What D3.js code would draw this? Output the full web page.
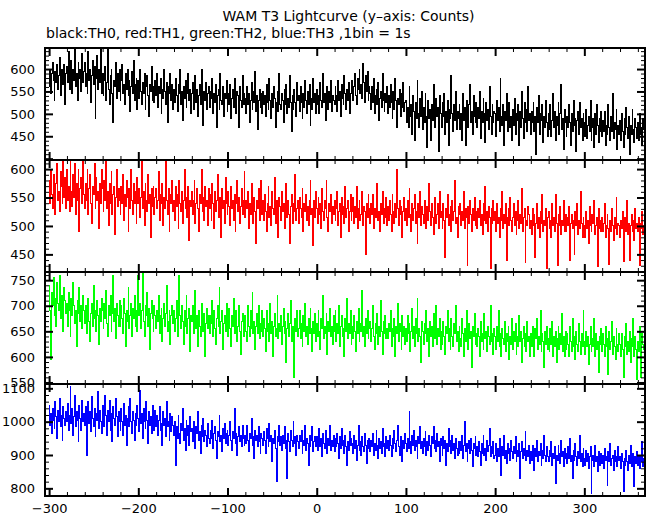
<!DOCTYPE html>
<html><head><meta charset="utf-8">
<script src="https://cdn.jsdelivr.net/npm/d3@7"></script>
<style>html,body{margin:0;padding:0;background:#fff;}svg{display:block;}</style>
</head><body>
<svg id="chart" width="652" height="515"></svg>
<script>
// ---------- data ----------
const titleText = "WAM T3 Lightcurve (y\u2013axis: Counts)";
const subtitleText = "black:TH0, red:TH1, green:TH2, blue:TH3 ,1bin = 1s";
const binStart = -300;   // time of first bin (s)
const binSize = 1;       // 1 bin = 1 s
const xTickLabels = [-300, -200, -100, 0, 100, 200, 300];
const seriesNames = ["TH0", "TH1", "TH2", "TH3"];
const yTickLabels0 = [450, 500, 550, 600];
const yTickLabels1 = [450, 500, 550, 600];
const yTickLabels2 = [550, 600, 650, 700, 750];
const yTickLabels3 = [800, 900, 1000, 1100];

const th0 = [
560,600,545,590,615,575,530,595,570,610,555,585,625,540,600,580,565,610,520,590,
605,570,640,555,595,620,545,600,575,645,560,590,530,615,580,600,550,635,570,595,
615,560,590,545,640,575,600,525,585,620,565,605,490,580,630,555,600,570,648,545,
590,540,575,605,530,570,645,555,520,585,600,545,480,575,560,615,535,590,550,600,
530,575,610,545,565,520,590,555,600,540,575,505,560,595,545,620,530,565,580,510,
575,535,600,550,520,570,545,590,510,560,585,540,495,565,550,605,530,560,525,575,
540,590,515,560,545,580,500,555,535,600,550,520,570,480,560,545,590,530,565,510,
555,525,580,540,505,565,545,600,520,550,485,560,535,575,515,545,590,530,555,500,
545,570,510,540,585,525,555,495,540,565,520,600,535,475,550,530,570,510,545,560,
515,550,535,580,500,545,525,565,470,540,555,510,590,530,520,560,495,545,535,575,
505,545,520,565,490,535,555,515,580,525,500,550,540,470,560,530,515,585,520,545,
535,500,560,520,545,480,530,570,510,550,525,595,505,540,465,530,555,515,545,500,
550,520,540,495,565,525,510,580,530,490,545,515,560,535,470,525,550,505,590,520,
510,545,530,480,555,520,565,500,535,515,585,525,460,540,510,555,525,495,570,530,
540,505,560,525,490,545,515,575,530,500,550,520,565,475,535,510,580,525,545,500,
555,520,540,500,570,530,515,590,525,545,485,535,560,510,550,525,575,505,540,530,
520,560,540,505,575,530,550,495,565,535,520,585,545,510,555,530,570,500,545,560,
575,530,560,590,540,520,580,555,600,545,565,535,612,570,525,585,550,595,530,560,
545,510,560,525,580,500,540,555,520,570,485,535,550,515,590,530,505,545,525,560,
500,540,515,565,525,490,550,510,580,530,470,535,520,555,495,545,515,570,505,525,
530,480,515,470,560,495,520,455,540,505,440,525,490,575,500,470,535,495,550,465,
515,480,545,495,425,530,490,510,440,520,485,565,500,470,535,495,515,415,540,500,
470,525,495,545,455,505,480,530,430,510,490,585,500,460,520,485,550,465,505,490,
520,465,500,440,545,485,515,430,530,495,470,520,565,480,505,455,540,495,480,525,
470,515,490,550,445,505,480,535,500,435,525,485,510,465,560,495,455,520,480,505,
500,450,530,485,515,460,580,495,475,520,430,505,485,545,460,500,525,470,495,440,
510,475,535,455,500,485,520,430,505,470,550,490,445,525,480,510,460,560,485,500,
455,505,480,525,460,495,410,515,480,540,455,500,485,520,435,495,470,530,480,450,
500,465,520,450,485,545,470,505,440,495,475,525,455,500,565,465,490,420,510,480,
450,495,470,520,480,430,500,460,530,475,490,415,485,505,455,525,470,490,440,500,
480,450,510,445,475,495,460,530,440,470,490,425,500,455,520,475,435,490,460,505,
450,485,460,505,430,475,455,520,470,440,495,460,545,445,480,465,510,420,475,455,
485,440,500,460,425,490,455,515,470,445,495,410,475,455,510,465,435,490,470,445,
480,440,500,455,470,430,490,465
];

const th1 = [
580,540,600,555,530,590,565,520,575,610,545,560,525,595,570,540,617,550,585,530,
600,545,570,525,617,560,535,590,550,610,520,575,545,600,490,565,585,540,617,555,
530,575,545,600,520,565,590,540,505,570,555,610,530,585,545,560,495,575,540,600,
565,525,580,545,617,530,560,500,575,540,595,520,555,570,485,550,600,535,565,545,
520,570,540,590,510,555,535,580,550,490,565,530,600,545,520,575,540,560,505,585,
540,565,515,550,617,530,560,500,575,545,525,590,540,555,480,565,535,570,520,550,
565,530,545,595,510,555,540,575,500,550,530,617,545,520,565,490,555,540,580,525,
545,510,570,535,555,495,580,540,525,560,505,545,600,530,550,515,570,475,545,535,
560,520,545,580,505,540,565,530,490,555,540,600,525,550,510,570,535,545,500,565,
530,555,510,575,540,495,560,525,545,590,515,535,550,480,565,530,545,505,585,540,
520,560,535,500,570,530,545,510,555,490,540,580,525,550,505,535,565,520,545,595,
515,545,530,560,495,540,520,575,535,505,550,525,470,545,530,565,510,540,580,520,
545,510,555,525,490,540,570,515,535,500,560,530,520,585,505,545,525,480,550,535,
510,560,525,540,495,530,575,515,545,520,470,535,555,505,540,525,590,510,530,545,
505,550,530,515,565,490,540,525,555,510,535,500,545,580,520,530,465,545,515,560,
530,505,550,520,540,495,565,525,510,545,530,580,515,490,540,525,555,505,535,520,
545,510,530,560,500,525,540,480,550,520,535,505,570,515,530,545,490,525,555,510,
525,550,505,535,515,570,495,530,545,510,520,560,500,535,525,450,540,515,555,530,
505,540,520,555,495,530,515,545,575,510,525,490,540,520,560,505,530,515,550,500,
535,510,545,520,490,555,525,505,540,515,600,530,500,545,520,535,480,525,550,510,
530,500,545,515,565,520,490,540,510,530,555,505,525,470,540,515,560,500,535,520,
505,545,520,495,535,510,575,525,500,540,515,485,530,550,505,520,540,495,560,515,
525,495,540,510,445,530,515,555,500,520,535,490,545,510,525,580,505,515,480,535,
520,540,500,525,510,560,495,530,515,430,535,505,545,520,490,530,510,550,500,525,
495,530,515,545,500,520,485,540,510,570,505,525,490,535,515,425,530,505,545,510,
525,490,540,505,515,480,530,510,560,495,520,505,540,440,515,530,500,550,510,490,
515,540,500,525,485,510,545,495,520,505,565,490,515,530,435,510,500,535,520,495,
510,485,530,500,520,445,505,540,495,515,480,525,505,555,490,510,500,530,425,515,
525,495,510,480,540,500,515,490,555,505,430,520,500,535,485,510,500,545,490,520,
490,515,500,535,440,505,520,495,510,450,525,500,540,485,510,495,560,505,480,515,
500,480,525,495,510,470,535,500,490,520,505,545,485,500,515,428,530,495,510,490,
515,490,505,540,480,500,520,495,432,510,490,530,500,475,515,495,550,485,505,500,
480,510,495,525,438,500,515,490,545,485,505,440,500,520,490,510,475,530,495,505,
490,515,430,505,495,525,485,500
];

const th2 = [
740,690,595,725,700,755,680,715,660,745,705,690,760,675,720,700,650,735,710,685,
705,660,725,690,640,715,680,745,700,665,690,620,710,685,735,670,700,655,720,690,
665,700,645,690,715,670,630,685,705,660,740,675,690,650,710,680,625,695,670,715,
690,655,705,675,730,665,640,700,680,720,650,685,760,670,695,635,705,680,660,710,
660,700,675,645,715,685,620,690,670,735,655,680,705,640,695,675,720,660,690,650,
760,680,705,655,690,765,670,640,700,680,725,660,695,615,685,710,675,650,700,680,
655,690,670,720,645,680,695,630,675,705,660,685,740,650,670,690,625,680,700,665,
690,650,675,710,640,665,760,680,655,700,670,625,690,660,720,645,675,695,610,680,
670,700,645,665,730,655,680,620,690,660,640,705,675,650,685,600,665,695,655,680,
645,680,665,710,640,690,655,625,675,700,660,735,645,670,690,615,665,680,650,705,
670,640,695,655,620,680,660,715,645,675,690,630,660,700,650,605,670,685,640,665,
680,650,630,700,660,640,690,655,725,645,670,615,660,685,645,700,635,665,650,690,
640,675,655,610,690,650,665,630,705,645,670,600,660,685,640,655,720,635,665,650,
680,625,660,695,645,670,590,655,685,640,665,710,630,660,645,560,675,650,690,640,
655,690,635,665,620,680,650,705,640,660,625,675,645,695,655,610,670,645,685,630,
665,640,690,650,615,675,655,720,635,660,645,685,605,670,650,695,640,660,625,680,
650,690,630,665,645,700,620,660,680,640,655,600,675,650,715,635,665,645,690,625,
660,635,680,650,610,670,645,695,630,665,650,730,640,660,620,675,645,690,635,655,
670,630,655,700,640,615,665,645,685,625,660,640,710,650,605,670,645,680,635,655,
635,665,650,690,620,655,640,675,600,660,645,705,630,665,650,615,680,640,660,625,
655,630,680,645,665,610,650,695,635,660,620,675,645,715,630,655,640,590,670,650,
625,665,645,690,630,655,600,670,640,660,620,685,645,635,700,625,655,640,675,615,
650,625,670,640,605,660,645,690,630,655,615,675,640,620,665,645,700,630,650,610,
660,635,620,675,645,600,655,630,690,640,615,665,635,650,580,660,640,685,625,645,
620,655,640,600,670,630,645,615,685,635,650,610,660,640,625,700,630,645,605,655,
640,615,660,630,690,620,645,600,655,635,625,670,610,645,630,660,595,640,625,675,
615,650,630,665,605,640,620,680,630,650,590,635,660,620,645,610,670,630,640,600,
645,620,660,630,600,655,635,675,615,640,625,690,610,645,630,580,650,625,660,615,
635,610,655,625,670,600,640,620,650,590,635,660,615,645,625,685,610,640,600,650,
615,645,625,600,660,630,610,675,620,640,595,650,625,610,665,630,605,645,620,690,
630,605,650,620,640,585,625,660,610,635,620,675,600,645,615,630,570,640,625,655,
610,645,625,600,660,620,635,565,650,615,630,670,605,640,620,595,655,625,610,645,
625,600,645,615,560,640,620,665,605,630,610,650,590,635,620,675,600,640,615,555,
630,610,660,620,560,645,625,615
];

const th3 = [
1050,990,1025,965,1040,1005,980,1060,1015,950,1035,1000,1070,985,1020,945,1045,1010,990,1030,
1000,1055,975,1020,1105,995,1040,960,1015,1080,985,1030,1005,940,1050,1010,975,1065,1000,1025,
990,1045,900,1020,1060,995,1030,970,1075,1010,985,1040,955,1025,1005,1090,980,1035,1000,965,
1050,1010,985,1080,1020,960,1035,1000,1065,975,1025,940,1045,1010,990,1070,1015,955,1030,1000,
975,1040,1000,960,1055,990,1020,930,1010,1045,985,1070,1000,965,1030,1005,945,1025,990,1050,
1010,970,1095,995,1025,950,1040,1000,980,1060,1005,935,1030,990,1015,965,1050,1000,975,1035,
985,1020,960,1005,1045,975,995,930,1030,990,1010,955,1060,985,1000,945,1025,970,1015,990,
960,1000,870,985,950,1020,965,935,995,975,1040,945,980,915,1005,960,990,930,1015,970,
980,940,1000,955,920,985,965,1030,945,970,905,990,955,1010,940,975,960,925,995,950,
935,975,950,1005,920,965,985,945,890,970,955,1020,940,960,910,980,950,995,935,965,
975,930,960,1000,945,915,970,950,1040,935,965,900,955,985,940,960,925,990,950,930,
960,935,990,945,910,965,950,1010,930,955,890,975,945,960,925,985,940,905,965,950,
930,970,945,905,980,950,925,995,940,960,880,950,935,975,920,820,955,940,990,930,
955,915,960,935,985,920,945,830,965,940,910,975,945,925,1000,935,955,900,960,940,
920,960,940,975,905,945,930,990,915,950,935,870,960,925,945,985,910,940,955,925,
955,915,940,980,925,950,895,965,935,920,975,940,905,950,930,990,915,945,925,960,
910,950,925,965,935,890,955,920,980,930,945,905,960,925,870,940,915,970,930,950,
935,905,960,920,945,885,930,990,915,940,900,955,925,910,965,930,875,945,920,950,
910,945,925,965,900,935,915,975,930,890,950,920,940,905,980,925,935,895,955,920,
945,915,960,930,895,950,920,975,935,910,945,990,925,900,955,930,880,945,920,965,
935,910,950,920,1030,940,905,960,930,975,915,945,925,890,955,935,985,920,940,905,
950,925,970,900,940,915,960,930,895,955,935,985,920,945,910,965,925,940,880,950,
930,900,955,920,945,870,935,910,980,925,945,905,960,915,935,890,950,920,900,940,
905,940,915,960,890,930,1000,910,935,880,920,945,905,950,915,865,935,920,955,900,
925,895,940,910,870,935,905,960,900,920,885,945,910,930,980,895,925,905,940,890,
900,935,880,920,895,950,905,840,925,900,960,890,915,875,935,905,920,885,945,910,
890,925,905,955,880,915,895,935,830,910,940,890,920,900,970,885,915,895,930,875,
910,885,930,900,855,920,895,945,880,910,900,935,870,915,890,960,900,880,925,895,
880,915,895,940,870,905,890,925,815,900,885,930,905,875,945,895,910,865,920,890,
905,875,925,890,950,880,900,830,915,885,935,895,870,910,890,960,880,905,865,920,
890,870,915,880,905,860,895,925,785,885,900,865,930,880,895,850,910,885,870,905,
875,900,860,920,885,895,810,910,880,935,870,890,900,855,915,880,895,865,925,885,
895,860,905,880,790,890,870,915,880,855,900,875,930,865,885,905,805,895,875,910,
870,895,860,900,880,940,865,890
];

const seriesValues = [th0, th1, th2, th3];
const seriesColors = ["#000000", "#ff0000", "#00ff00", "#0000ff"];
const yDomains = [[397, 647], [419, 616], [547, 766], [777, 1113]];
const yTickLabels = [yTickLabels0, yTickLabels1, yTickLabels2, yTickLabels3];
const yMinorSteps = [10, 10, 10, 20];
const yMajorSteps = [50, 50, 50, 100];

// ---------- layout ----------
const plotLeft = 45, plotRight = 645, plotTop = 48, panelH = 112;
const svg = d3.select("#chart");
const fontFam = "'DejaVu Sans', Verdana, sans-serif";
const fmt = d3.format("d");

const x = d3.scaleLinear().domain([-304.6, 368]).range([plotLeft, plotRight]);
const xMajor = d3.range(-300, 301, 100);
const xMinor = d3.range(-300, 361, 20).filter(v => v % 100 !== 0);

svg.append("text").attr("x", 348.5).attr("y", 21).attr("text-anchor", "middle")
  .attr("font-family", fontFam).attr("font-size", 14).attr("fill", "#000").text(titleText);
svg.append("text").attr("x", 46).attr("y", 38).attr("text-anchor", "start")
  .attr("font-family", fontFam).attr("font-size", 14).attr("fill", "#000").text(subtitleText);

seriesValues.forEach((vals, i) => {
  const y0 = plotTop + i * panelH;
  const y = d3.scaleLinear().domain(yDomains[i]).range([y0 + panelH, y0]);
  const g = svg.append("g");
  const clipId = "clip" + i;
  svg.append("clipPath").attr("id", clipId).append("rect")
    .attr("x", plotLeft).attr("y", y0).attr("width", plotRight - plotLeft).attr("height", panelH);

  const line = d3.line()
    .x((d, j) => x(binStart + j * binSize))
    .y(d => y(d))
    .curve(d3.curveStep);
  g.append("path").datum(vals)
    .attr("clip-path", `url(#${clipId})`)
    .attr("d", line).attr("fill", "none")
    .attr("stroke", seriesColors[i]).attr("stroke-width", 1)
    .attr("shape-rendering", "crispEdges");

  const [d0, d1] = yDomains[i];
  const mnr = yMinorSteps[i], mjr = yMajorSteps[i];
  const yAll = d3.range(Math.ceil(d0 / mnr) * mnr, d1 + 0.001, mnr);
  const yMinor = yAll.filter(v => v % mjr !== 0);
  const yMajorT = yAll.filter(v => v % mjr === 0);

  const styleAxis = (sel, w) => {
    sel.select(".domain").remove();
    sel.selectAll("line").attr("stroke", "#000").attr("stroke-width", w);
  };
  g.append("g").attr("transform", `translate(${plotLeft},0)`)
    .call(d3.axisLeft(y).tickValues(yMinor).tickSize(-4).tickFormat("")).call(s => styleAxis(s, 1));
  g.append("g").attr("transform", `translate(${plotLeft},0)`)
    .call(d3.axisLeft(y).tickValues(yMajorT).tickSize(-8).tickFormat("")).call(s => styleAxis(s, 2));
  g.append("g").attr("transform", `translate(${plotRight},0)`)
    .call(d3.axisRight(y).tickValues(yMinor).tickSize(-4).tickFormat("")).call(s => styleAxis(s, 1));
  g.append("g").attr("transform", `translate(${plotRight},0)`)
    .call(d3.axisRight(y).tickValues(yMajorT).tickSize(-8).tickFormat("")).call(s => styleAxis(s, 2));
  g.append("g").attr("transform", `translate(0,${y0})`)
    .call(d3.axisTop(x).tickValues(xMinor).tickSize(-4).tickFormat("")).call(s => styleAxis(s, 1));
  g.append("g").attr("transform", `translate(0,${y0})`)
    .call(d3.axisTop(x).tickValues(xMajor).tickSize(-8).tickFormat("")).call(s => styleAxis(s, 2));
  g.append("g").attr("transform", `translate(0,${y0 + panelH})`)
    .call(d3.axisBottom(x).tickValues(xMinor).tickSize(-4).tickFormat("")).call(s => styleAxis(s, 1));
  g.append("g").attr("transform", `translate(0,${y0 + panelH})`)
    .call(d3.axisBottom(x).tickValues(xMajor).tickSize(-8).tickFormat("")).call(s => styleAxis(s, 2));

  const yl = g.append("g").attr("transform", `translate(${plotLeft},0)`)
    .call(d3.axisLeft(y).tickValues(yTickLabels[i]).tickSize(0).tickPadding(10).tickFormat(fmt));
  yl.select(".domain").remove();
  yl.selectAll("text").attr("font-family", fontFam).attr("font-size", 13).attr("fill", "#000");

  g.append("rect").attr("x", plotLeft).attr("y", y0).attr("width", plotRight - plotLeft).attr("height", panelH)
    .attr("fill", "none").attr("stroke", "#000").attr("stroke-width", 2);

  if (i === seriesValues.length - 1) {
    const xl = g.append("g").attr("transform", `translate(0,${y0 + panelH})`)
      .call(d3.axisBottom(x).tickValues(xTickLabels).tickSize(0));
    xl.select(".domain").remove();
    xl.selectAll("text").attr("font-family", fontFam).attr("font-size", 13).attr("fill", "#000")
      .attr("y", 17).attr("dy", 0);
  }
});
</script>
</body></html>
